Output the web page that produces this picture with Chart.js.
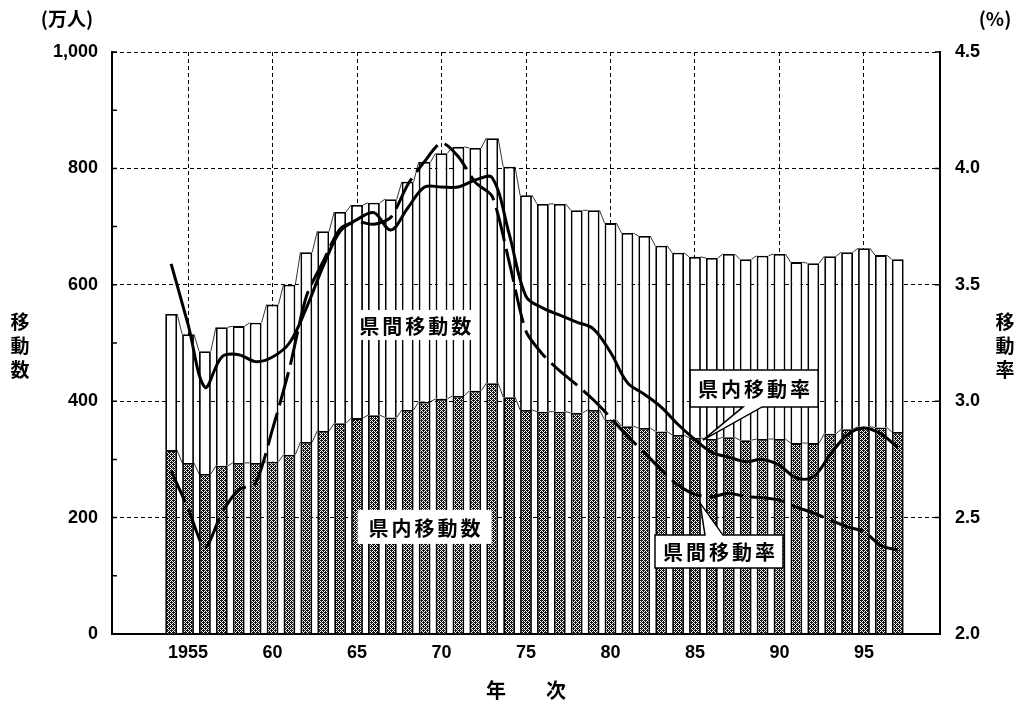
<!DOCTYPE html>
<html lang="ja">
<head>
<meta charset="utf-8">
<title>移動数と移動率の推移</title>
<script src="https://cdn.jsdelivr.net/npm/chart.js@4.4.1/dist/chart.umd.min.js"></script>
<style>
  body { margin: 0; background: #fff; }
  #wrap { width: 1025px; height: 713px; }
</style>
</head>
<body>
<div id="wrap"><canvas id="chart" width="1025" height="713"></canvas></div>
<script>
// category axis runs a bit past the data on both sides
const FIRST_YEAR = 1951;
const LAST_YEAR = 1999;
const DATA_START = 1954;

// 県内移動数 (万人) 1954-1997
const intraMoves = [316, 294, 275, 289, 294, 294, 296, 308, 330, 349,
                    362, 371, 376, 372, 385, 399, 404, 409, 418, 431,
                    407, 385, 382, 382, 380, 385, 368, 357, 354, 348,
                    342, 337, 335, 338, 333, 335, 335, 328, 328, 344,
                    352, 356, 355, 347];
// 県間移動数 (万人) 1954-1997
const interMoves = [234, 221, 211, 238, 235, 241, 270, 292, 326, 343,
                    363, 366, 365, 375, 392, 412, 422, 428, 417, 421,
                    396, 369, 357, 357, 348, 343, 338, 332, 330, 319,
                    313, 311, 311, 315, 311, 315, 318, 311, 309, 305,
                    304, 307, 296, 297];
// 県内移動率 (%) 1954-1997
const intraRate = [3.59, 3.33, 3.06, 3.19, 3.20, 3.17, 3.19, 3.25, 3.40, 3.58,
                   3.73, 3.78, 3.81, 3.735, 3.83, 3.92, 3.92, 3.92, 3.95, 3.96,
                   3.72, 3.45, 3.40, 3.37, 3.34, 3.31, 3.21, 3.08, 3.03, 2.975,
                   2.90, 2.835, 2.78, 2.76, 2.74, 2.75, 2.725, 2.67, 2.675, 2.77,
                   2.855, 2.885, 2.86, 2.80];
// 県間移動率 (%) 1954-1997
const interRate = [2.70, 2.54, 2.37, 2.52, 2.62, 2.65, 2.88, 3.14, 3.45, 3.60,
                   3.74, 3.77, 3.76, 3.79, 3.93, 4.03, 4.11, 4.05, 3.94, 3.88,
                   3.60, 3.30, 3.20, 3.13, 3.07, 3.005, 2.93, 2.85, 2.78, 2.705,
                   2.64, 2.60, 2.59, 2.605, 2.59, 2.585, 2.575, 2.545, 2.52, 2.49,
                   2.46, 2.44, 2.38, 2.36];

const xTickYears = [1955, 1960, 1965, 1970, 1975, 1980, 1985, 1990, 1995];
const xTickText  = ['1955', '60', '65', '70', '75', '80', '85', '90', '95'];

const years = [];
for (let y = FIRST_YEAR; y <= LAST_YEAR; y++) years.push(y);
const pad = (arr) => years.map(y => {
    const i = y - DATA_START;
    return (i >= 0 && i < arr.length) ? arr[i] : null;
});

const NUM_FONT = "'Liberation Sans', Arial, sans-serif";
const JP_FONT = "'Noto Sans CJK JP', sans-serif";

const canvas = document.getElementById('chart');
const ctx = canvas.getContext('2d');

const dotPattern = () => {
    const c = document.createElement('canvas');
    c.width = 4; c.height = 4;
    const g = c.getContext('2d');
    g.fillStyle = '#fff';
    g.fillRect(0, 0, 4, 4);
    g.fillStyle = '#111';
    for (let yy = 0; yy < 4; yy++) {
        for (let xx = 0; xx < 4; xx++) {
            if ((xx + yy) % 2 === 0 || (xx === 1 && yy === 0) || (xx === 3 && yy === 2)) g.fillRect(xx, yy, 1, 1);
        }
    }
    return ctx.createPattern(c, 'repeat');
};

// text notes, anchored in data space (year, value on left axis / rate on right axis)
const plainNotes = [
    {text: '県間移動数', year: 1968.45, value: 531, w: 122, h: 30},
    {text: '県内移動数', year: 1969.0, value: 184, w: 134, h: 34},
];
const calloutNotes = [
    {text: '県内移動率', year: 1988.5, rate: 3.055, w: 128, h: 37,
     tipYear: 1985.47, tipRate: 2.833, side: 'bottom', b1: -11, b2: 8},
    {text: '県間移動率', year: 1986.42, rate: 2.354, w: 128, h: 33,
     tipYear: 1985.3, tipRate: 2.563, side: 'top', b1: -14, b2: 4},
];

const drawSpaced = (c, text, cx, cy, step) => {
    const chars = [...text];
    const start = cx - step * (chars.length - 1) / 2;
    chars.forEach((ch, i) => c.fillText(ch, start + i * step, cy));
};

const decorations = {
    id: 'decorations',
    afterDatasetDraw(chart, args) {
        // thin series lines joining the bar tops
        if (args.meta.type !== 'bar') return;
        const c = chart.ctx;
        const bars = args.meta.data;
        const raw = chart.data.datasets[args.index].data;
        c.save();
        c.strokeStyle = '#000';
        c.lineWidth = 0.8;
        c.beginPath();
        for (let i = 0; i < bars.length - 1; i++) {
            if (raw[i] === null || raw[i + 1] === null) continue;
            const a = bars[i], b = bars[i + 1];
            c.moveTo(a.x + a.width / 2, a.y);
            c.lineTo(b.x - b.width / 2, b.y);
        }
        c.stroke();
        c.restore();
    },
    afterDraw(chart) {
        const c = chart.ctx;
        const {x, y, yR} = chart.scales;
        const area = chart.chartArea;
        const px = (yr) => x.getPixelForValue(yr - FIRST_YEAR);

        c.save();
        // inward tick marks
        c.strokeStyle = '#000';
        c.lineWidth = 1.5;
        c.beginPath();
        for (let v = 0; v <= 1000; v += 100) {
            const py = y.getPixelForValue(v);
            c.moveTo(area.left, py);
            c.lineTo(area.left + 5, py);
        }
        for (let r = 2; r <= 4.5; r += 0.5) {
            const py = yR.getPixelForValue(r);
            c.moveTo(area.right, py);
            c.lineTo(area.right - 5, py);
        }
        c.stroke();

        // unit labels and stacked axis titles
        c.fillStyle = '#000';
        c.textAlign = 'center';
        c.textBaseline = 'middle';
        c.font = `bold 19px ${JP_FONT}`;
        c.fillText('(万人)', 67, 19);
        c.fillText('(%)', 995, 19);
        ['移', '動', '数'].forEach((ch, i) => c.fillText(ch, 20, 322 + i * 24));
        ['移', '動', '率'].forEach((ch, i) => c.fillText(ch, 1005, 322 + i * 24));

        // plain white-backed labels
        plainNotes.forEach(n => {
            const cx = px(n.year), cy = y.getPixelForValue(n.value);
            c.fillStyle = '#fff';
            c.fillRect(cx - n.w / 2, cy - n.h / 2, n.w, n.h);
            c.fillStyle = '#000';
            c.font = `bold 20px ${JP_FONT}`;
            drawSpaced(c, n.text, cx, cy + 1, 23);
        });

        // boxed callouts
        calloutNotes.forEach(n => {
            const cx = px(n.year), cy = yR.getPixelForValue(n.rate);
            const tx = px(n.tipYear), ty = yR.getPixelForValue(n.tipRate);
            const l = cx - n.w / 2, r = cx + n.w / 2, t = cy - n.h / 2, b = cy + n.h / 2;
            c.beginPath();
            if (n.side === 'bottom') {
                c.moveTo(l, t); c.lineTo(r, t); c.lineTo(r, b);
                c.lineTo(cx + n.b2, b); c.lineTo(tx, ty); c.lineTo(cx + n.b1, b);
                c.lineTo(l, b);
            } else {
                c.moveTo(l, t); c.lineTo(cx + n.b1, t); c.lineTo(tx, ty);
                c.lineTo(cx + n.b2, t); c.lineTo(r, t); c.lineTo(r, b);
                c.lineTo(l, b);
            }
            c.closePath();
            c.fillStyle = '#fff';
            c.fill();
            c.lineWidth = 1.5;
            c.strokeStyle = '#000';
            c.stroke();
            c.fillStyle = '#000';
            c.font = `bold 20px ${JP_FONT}`;
            drawSpaced(c, n.text, cx, cy + 1, 23);
        });
        c.restore();
    }
};

const tickFont = {family: NUM_FONT, size: 18, weight: 'bold'};

new Chart(canvas, {
    data: {
        labels: years.map(String),
        datasets: [
            {
                // lower "order" sits at the bottom of the stack
                type: 'bar', label: '県内移動数', data: pad(intraMoves),
                yAxisID: 'y', stack: 'moves', order: 2,
                backgroundColor: dotPattern(), borderColor: '#000', borderWidth: 1.8,
                barPercentage: 0.7, categoryPercentage: 1
            },
            {
                type: 'bar', label: '県間移動数', data: pad(interMoves),
                yAxisID: 'y', stack: 'moves', order: 3,
                backgroundColor: '#fff', borderColor: '#000', borderWidth: 1.8,
                barPercentage: 0.7, categoryPercentage: 1
            },
            {
                type: 'line', label: '県内移動率', data: pad(intraRate),
                yAxisID: 'yR', order: 1,
                borderColor: '#000', borderWidth: 3, pointRadius: 0, tension: 0.35,
                fill: false
            },
            {
                type: 'line', label: '県間移動率', data: pad(interRate),
                yAxisID: 'yR', order: 0,
                borderColor: '#000', borderWidth: 3, borderDash: [34, 8],
                pointRadius: 0, tension: 0.25, fill: false
            }
        ]
    },
    options: {
        responsive: false,
        animation: false,
        layout: {padding: {top: 52, left: 0, right: 0, bottom: 0}},
        plugins: {legend: {display: false}, tooltip: {enabled: false}},
        scales: {
            x: {
                stacked: true,
                offset: true,
                grid: {
                    offset: false,
                    drawTicks: false,
                    lineWidth: 1,
                    color: (c) => xTickYears.includes(years[c.index]) ? '#000' : 'rgba(0,0,0,0)'
                },
                border: {display: true, color: '#000', width: 2, dash: [4, 3]},
                ticks: {
                    autoSkip: false, maxRotation: 0, padding: 8,
                    color: '#000', font: tickFont,
                    callback: (v, i) => {
                        const k = xTickYears.indexOf(years[i]);
                        return k < 0 ? '' : xTickText[k];
                    }
                },
                title: {
                    display: true, text: '年　　次', color: '#000',
                    font: {family: JP_FONT, size: 20, weight: 'bold'},
                    padding: {top: 4, bottom: 11}
                },
                afterFit: (s) => { s.height = 79; }
            },
            y: {
                position: 'left',
                stacked: true,
                min: 0, max: 1000,
                grid: {
                    drawTicks: false, lineWidth: 1,
                    color: (c) => c.tick && c.tick.value % 200 === 0 ? '#000' : 'rgba(0,0,0,0)'
                },
                border: {display: true, color: '#000', width: 2, dash: [4, 3]},
                ticks: {
                    stepSize: 100, padding: 14, color: '#000', font: tickFont,
                    callback: (v) => v % 200 === 0 ? v.toLocaleString('en-US') : ''
                },
                afterFit: (s) => { s.width = 112; }
            },
            yR: {
                position: 'right',
                min: 2, max: 4.5,
                grid: {drawOnChartArea: false, drawTicks: false},
                border: {display: true, color: '#000', width: 2},
                ticks: {
                    stepSize: 0.5, padding: 15, color: '#000', font: tickFont,
                    callback: (v) => Number(v).toFixed(1)
                },
                afterFit: (s) => { s.width = 85; }
            }
        }
    },
    plugins: [decorations]
});
</script>
</body>
</html>
